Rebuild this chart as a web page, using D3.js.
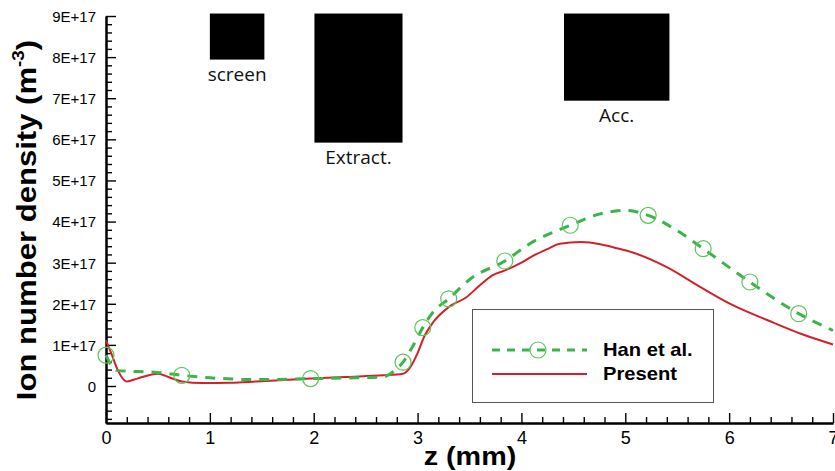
<!DOCTYPE html>
<html>
<head>
<meta charset="utf-8">
<script src="https://cdn.jsdelivr.net/npm/d3@7"></script>
<style>
  html, body { margin: 0; padding: 0; background: #fff; }
  svg { display: block; }
</style>
</head>
<body>
<svg id="chart" width="835" height="471"></svg>
<script>
// ---------------- data ----------------
const hanZ = [0, 0.05, 0.1, 0.3, 0.5, 0.73, 1.0, 1.45, 1.97, 2.4, 2.67, 2.74, 2.8, 2.86, 2.95, 3.05, 3.15, 3.30, 3.51, 3.84, 4.08, 4.47, 4.75, 5.0, 5.22, 5.5, 5.75, 6.2, 6.67, 7.0];
const hanN = [0.75e17, 0.5e17, 0.38e17, 0.35e17, 0.33e17, 0.26e17, 0.2e17, 0.155e17, 0.18e17, 0.2e17, 0.22e17, 0.30e17, 0.42e17, 0.58e17, 0.95e17, 1.42e17, 1.8e17, 2.12e17, 2.61e17, 3.04e17, 3.46e17, 3.91e17, 4.18e17, 4.27e17, 4.15e17, 3.78e17, 3.34e17, 2.53e17, 1.76e17, 1.35e17];
const hanMarkerZ = [0, 0.73, 1.97, 2.86, 3.05, 3.30, 3.84, 4.47, 5.22, 5.75, 6.2, 6.67];
const hanMarkerN = [0.75e17, 0.26e17, 0.18e17, 0.58e17, 1.42e17, 2.12e17, 3.04e17, 3.91e17, 4.15e17, 3.34e17, 2.53e17, 1.76e17];

const presZ = [0, 0.05, 0.12, 0.2, 0.3, 0.5, 0.6, 0.73, 0.93, 1.2, 1.45, 1.97, 2.3, 2.67, 2.86, 2.93, 3.0, 3.06, 3.15, 3.30, 3.47, 3.6, 3.72, 3.86, 4.0, 4.12, 4.25, 4.37, 4.57, 4.76, 4.89, 5.08, 5.40, 5.72, 6.04, 6.37, 6.69, 7.0];
const presN = [1.11e17, 0.8e17, 0.35e17, 0.11e17, 0.18e17, 0.30e17, 0.22e17, 0.11e17, 0.07e17, 0.08e17, 0.11e17, 0.18e17, 0.22e17, 0.26e17, 0.30e17, 0.46e17, 0.8e17, 1.18e17, 1.55e17, 1.92e17, 2.16e17, 2.45e17, 2.69e17, 2.83e17, 3.0e17, 3.18e17, 3.33e17, 3.46e17, 3.50e17, 3.45e17, 3.37e17, 3.24e17, 2.89e17, 2.41e17, 1.96e17, 1.60e17, 1.27e17, 1.01e17];

const xTickValues = [0, 1, 2, 3, 4, 5, 6, 7];
const xTickLabels = ["0", "1", "2", "3", "4", "5", "6", "7"];
const yTickValues = [0, 1e17, 2e17, 3e17, 4e17, 5e17, 6e17, 7e17, 8e17, 9e17];
const yTickLabels = ["0", "1E+17", "2E+17", "3E+17", "4E+17", "5E+17", "6E+17", "7E+17", "8E+17", "9E+17"];

// electrode blocks
const blockLabels = ["screen", "Extract.", "Acc."];
const blockZ0 = [1.0, 2.007, 4.41];
const blockZ1 = [1.525, 2.855, 5.425];
const blockNBottom = [7.94e17, 5.92e17, 6.94e17];
const blockNTop = [9.06e17, 9.06e17, 9.06e17];

const seriesNames = ["Han et al.", "Present"];

// ---------------- chart ----------------
const svg = d3.select("#chart");
const x = d3.scaleLinear().domain([0, 7]).range([106, 833]);
const y = d3.scaleLinear().domain([-0.9e17, 9e17]).range([423, 16]);

const GREEN = "#3cb44a";
const GREEN_M = "#5cc65c";
const RED = "#d3202a";

// electrode blocks
const blocks = blockLabels.map((l, i) => ({l, z0: blockZ0[i], z1: blockZ1[i], b: blockNBottom[i], t: blockNTop[i]}));
svg.append("g").selectAll("rect").data(blocks).join("rect")
  .attr("x", d => x(d.z0)).attr("width", d => x(d.z1) - x(d.z0))
  .attr("y", d => y(d.t)).attr("height", d => y(d.b) - y(d.t))
  .attr("fill", "#000");
svg.append("g").selectAll("text").data(blocks).join("text")
  .attr("x", d => (x(d.z0) + x(d.z1)) / 2)
  .attr("y", d => y(d.b) + 21)
  .attr("text-anchor", "middle")
  .attr("font-family", "'Open Sans', sans-serif")
  .attr("font-size", 19)
  .attr("fill", "#111")
  .text(d => d.l);

// axes
const yAxisMinor = d3.axisLeft(y)
  .tickValues(d3.range(-4, 46).map(i => i * 0.2e17).filter(v => Math.abs(v / 1e17 - Math.round(v / 1e17)) > 1e-6))
  .tickSizeInner(-6).tickSizeOuter(0).tickFormat("");
const yAxis = d3.axisLeft(y)
  .tickValues(yTickValues)
  .tickSizeInner(-10).tickSizeOuter(0).tickPadding(10)
  .tickFormat((d, i) => yTickLabels[i]);
const xAxisMinor = d3.axisBottom(x)
  .tickValues(d3.range(0, 36).map(i => i * 0.2).filter(v => Math.abs(v - Math.round(v)) > 1e-6))
  .tickSizeInner(-6).tickSizeOuter(0).tickFormat("");
const xAxis = d3.axisBottom(x)
  .tickValues(xTickValues)
  .tickSizeInner(-10).tickSizeOuter(0).tickPadding(8)
  .tickFormat((d, i) => xTickLabels[i]);

function styleAxis(g) {
  g.select(".domain").attr("stroke", "#000").attr("stroke-width", 2);
  g.selectAll(".tick line").attr("stroke", "#000").attr("stroke-width", 1.4);
  g.selectAll("text").attr("fill", "#000").attr("font-family", "'Liberation Sans', Arial, sans-serif");
}
svg.append("g").attr("transform", "translate(106,0)").call(yAxisMinor).call(styleAxis);
svg.append("g").attr("transform", "translate(106,0)").call(yAxis).call(styleAxis)
  .selectAll(".tick text").attr("font-size", 15).attr("dy", "0.36em");
svg.append("g").attr("transform", "translate(0,423)").call(xAxisMinor).call(styleAxis);
svg.append("g").attr("transform", "translate(0,423)").call(xAxis).call(styleAxis)
  .selectAll(".tick text").attr("font-size", 18).attr("dy", "0.71em");

// titles
svg.append("text")
  .attr("transform", "translate(470,465) scale(1.15,1)")
  .attr("text-anchor", "middle")
  .attr("font-family", "'Liberation Sans', Arial, sans-serif")
  .attr("font-weight", "bold").attr("font-size", 25)
  .text("z (mm)");
const yt = svg.append("text")
  .attr("transform", "translate(36,220) rotate(-90) scale(1.11,1)")
  .attr("text-anchor", "middle")
  .attr("font-family", "'Liberation Sans', Arial, sans-serif")
  .attr("font-weight", "bold").attr("font-size", 28);
yt.append("tspan").text("Ion number density (m");
yt.append("tspan").attr("font-size", 17).attr("dy", -12).text("-3");
yt.append("tspan").attr("dy", 12).text(")");

// lines
const han = hanZ.map((z, i) => [z, hanN[i]]);
const pres = presZ.map((z, i) => [z, presN[i]]);
const line = d3.line().x(d => x(d[0])).y(d => y(d[1])).curve(d3.curveMonotoneX);

svg.append("path").datum(pres).attr("d", line)
  .attr("fill", "none").attr("stroke", RED).attr("stroke-width", 2);
svg.append("path").datum(han).attr("d", line)
  .attr("fill", "none").attr("stroke", GREEN).attr("stroke-width", 3)
  .attr("stroke-dasharray", "10,8");
svg.append("g").selectAll("circle").data(hanMarkerZ.map((z, i) => [z, hanMarkerN[i]])).join("circle")
  .attr("cx", d => x(d[0])).attr("cy", d => y(d[1])).attr("r", 8)
  .attr("fill", "none").attr("stroke", GREEN_M).attr("stroke-width", 1.2);

// legend
const lg = svg.append("g");
lg.append("rect").attr("x", 472.5).attr("y", 309.5).attr("width", 241).attr("height", 93)
  .attr("fill", "#fff").attr("stroke", "#555").attr("stroke-width", 1);
lg.append("line").attr("x1", 492).attr("x2", 587).attr("y1", 350).attr("y2", 350)
  .attr("stroke", GREEN).attr("stroke-width", 3).attr("stroke-dasharray", "8,7");
lg.append("circle").attr("cx", 538).attr("cy", 350).attr("r", 8)
  .attr("fill", "none").attr("stroke", GREEN_M).attr("stroke-width", 1.2);
lg.append("line").attr("x1", 492).attr("x2", 587).attr("y1", 374).attr("y2", 374)
  .attr("stroke", RED).attr("stroke-width", 2);
lg.selectAll("text.lt").data(seriesNames).join("text")
  .attr("class", "lt")
  .attr("transform", (d, i) => `translate(603,${356 + i * 24}) scale(1.12,1)`)
  .attr("font-family", "'Liberation Sans', Arial, sans-serif")
  .attr("font-weight", "bold").attr("font-size", 18)
  .attr("fill", "#000")
  .text(d => d);
</script>
</body>
</html>
